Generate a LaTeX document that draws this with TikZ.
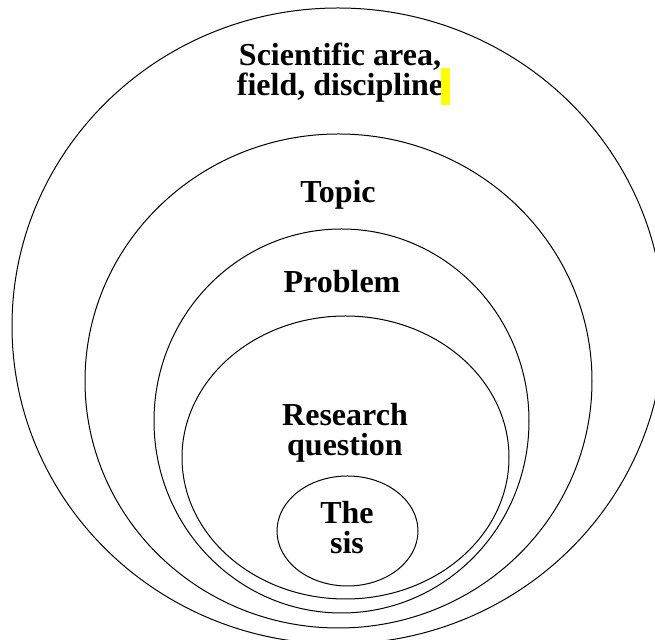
\documentclass[tikz,border=0pt]{standalone}
\usepackage{fontspec}
\setmainfont{Liberation Serif}
\usepackage{xcolor}
\usepackage{tikz}
\usetikzlibrary{shapes.geometric, positioning}
\definecolor{cursorYellow}{HTML}{FFFF00}

\begin{document}
\begin{tikzpicture}[x=0.5pt, y=-0.5pt,
    zone/.style={ellipse, draw=black, line width=0.5pt, inner sep=0pt, outer sep=0pt},
    zoneText/.style={align=center, inner sep=0pt, font=\fontsize{16}{15}\selectfont\bfseries},
]
\useasboundingbox (0,0) rectangle (655,640);
\node[zone, minimum width=326pt, minimum height=318pt] (field) at (338,326) {};
\node[zone, minimum width=253.5pt, minimum height=247pt] (topic) at (338.5,381) {};
\node[zone, minimum width=187.5pt, minimum height=192pt] (problem) at (341.5,421) {};
\node[zone, minimum width=163.5pt, minimum height=141.5pt] (question) at (345.5,457.5) {};
\node[zone, minimum width=70.5pt, minimum height=55pt] (thesis) at (347.5,531) {};
\node[zoneText] (fieldText) at (340,72.5) {Scientific area,\\field, discipline};
\node[zoneText] (topicText) at (338,194.5) {Topic};
\node[zoneText] (problemText) at (342,282) {Problem};
\node[zoneText] (questionText) at (345,432.5) {Research\\question};
\node[zoneText] (thesisText) at (347,528) {The\\sis};
\fill[cursorYellow] (441,68) rectangle (450,105);
\end{tikzpicture}
\end{document}
